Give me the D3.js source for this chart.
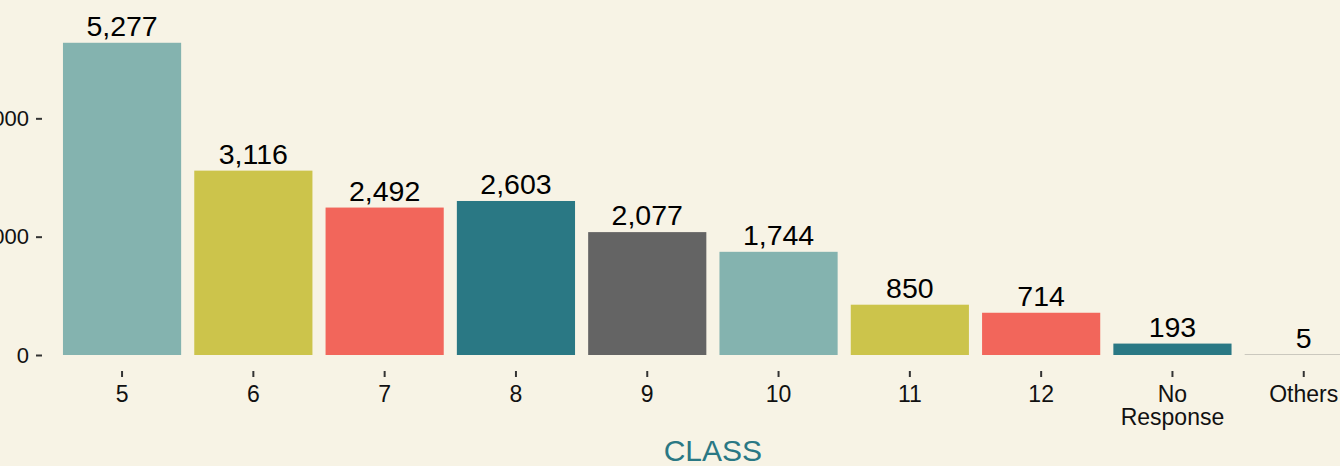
<!DOCTYPE html>
<html>
<head>
<meta charset="utf-8">
<script src="https://cdn.jsdelivr.net/npm/d3@7"></script>
<style>
  html, body { margin: 0; padding: 0; background: #F7F3E5; }
  svg { display: block; font-family: "Liberation Sans", Arial, sans-serif; }
</style>
</head>
<body>
<div id="chart"></div>
<script>
// class distribution bar chart
const categories = ["5", "6", "7", "8", "9", "10", "11", "12", "No Response", "Others"];
const counts = [5277, 3116, 2492, 2603, 2077, 1744, 850, 714, 193, 5];
const barColors = ["#84B3AF", "#CCC44B", "#F2665B", "#2A7884", "#646464"];
const yTicks = [0, 2000, 4000];

const width = 1340, height = 466;

const svg = d3.select("#chart")
  .append("svg")
  .attr("width", width)
  .attr("height", height)
  .style("background", "#F7F3E5");

// plot area runs off the left and right edges of the picture
const x = d3.scaleBand()
  .domain(categories)
  .range([56.4, 1369.4])
  .paddingInner(0.1)
  .paddingOuter(0.05);

const y = d3.scaleLinear()
  .domain([0, 6000])
  .range([355, 0]);

const data = categories.map((c, i) => ({ cat: c, value: counts[i] }));

// bars
svg.selectAll(".bar")
  .data(data)
  .enter()
  .append("rect")
  .attr("class", "bar")
  .attr("x", d => x(d.cat))
  .attr("width", x.bandwidth())
  .attr("y", d => y(d.value))
  .attr("height", d => y(0) - y(d.value))
  .attr("fill", (d, i) => barColors[i % barColors.length]);

// value labels
svg.selectAll(".val")
  .data(data)
  .enter()
  .append("text")
  .attr("class", "val")
  .attr("x", d => x(d.cat) + x.bandwidth() / 2)
  .attr("y", d => y(d.value) - 7)
  .attr("text-anchor", "middle")
  .style("font-size", "28.5px")
  .style("fill", "#000")
  .text(d => d3.format(",")(d.value));

// y axis
const yAxis = svg.append("g")
  .attr("transform", "translate(42,0)")
  .call(d3.axisLeft(y).tickValues(yTicks).tickSize(6).tickPadding(7).tickFormat(d3.format("d")));
yAxis.select(".domain").remove();
yAxis.selectAll(".tick line").attr("stroke", "#333").attr("stroke-width", 2);
yAxis.selectAll(".tick text")
  .style("font-size", "22px")
  .style("fill", "#111")
  .attr("font-family", null);

// x axis
const xAxis = svg.append("g")
  .attr("transform", "translate(0,371)")
  .call(d3.axisBottom(x).tickSize(6).tickPadding(0));
xAxis.select(".domain").remove();
xAxis.selectAll(".tick line").attr("stroke", "#333").attr("stroke-width", 2);
xAxis.selectAll(".tick text").remove();

// tick labels, one text per line so long names wrap
xAxis.selectAll(".tick").each(function(d) {
  const t = d3.select(this);
  d.split(" ").forEach((w, i) => {
    t.append("text")
      .attr("x", 0)
      .attr("y", 31 + i * 23)
      .attr("text-anchor", "middle")
      .style("font-size", "23px")
      .style("fill", "#111")
      .text(w);
  });
});

// axis title
svg.append("text")
  .attr("x", (x.range()[0] + x.range()[1]) / 2)
  .attr("y", 461)
  .attr("text-anchor", "middle")
  .style("font-size", "30px")
  .style("fill", "#2A7884")
  .text("CLASS");
</script>
</body>
</html>
